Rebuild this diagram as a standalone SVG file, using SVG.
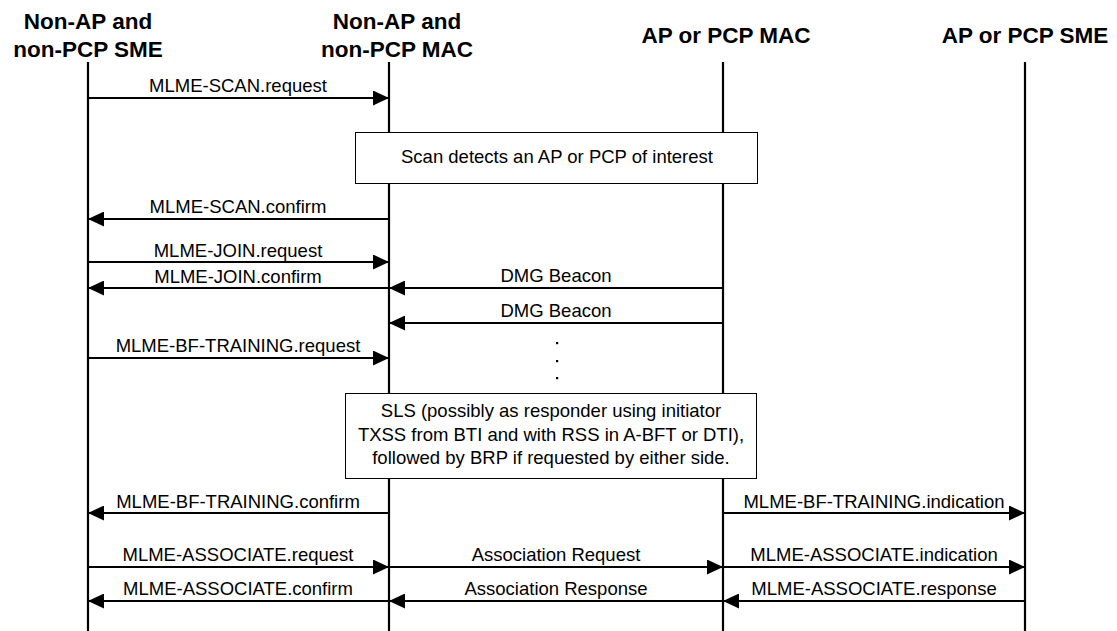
<svg xmlns="http://www.w3.org/2000/svg" width="1117" height="631" viewBox="0 0 1117 631">
<style>
.hdr{font-family:"Liberation Sans",Arial,sans-serif;font-weight:bold;font-size:22.5px;fill:#000;text-anchor:middle}
.lbl{font-family:"Liberation Sans",Arial,sans-serif;font-size:18.5px;fill:#000;text-anchor:middle}
.life{stroke:#000;stroke-width:2.2;fill:none}
.msg{stroke:#000;stroke-width:2.2;fill:none;marker-end:url(#ah)}
.box{fill:#fff;stroke:#000;stroke-width:1}
.dot{fill:#000}
</style>
<defs>
<marker id="ah" markerUnits="userSpaceOnUse" markerWidth="16" markerHeight="15" refX="16" refY="7.5" orient="auto">
<path d="M0,0 L16,7.5 L0,15 z" fill="#000"/>
</marker>
</defs>
<rect width="1117" height="631" fill="#fff"/>
<g id="sta-sme">
<text class="hdr" x="88" y="29">Non-AP and</text>
<text class="hdr" x="88" y="57">non-PCP SME</text>
<line class="life" x1="88" y1="62" x2="88" y2="631"/>
</g>
<g id="sta-mac">
<text class="hdr" x="397" y="29">Non-AP and</text>
<text class="hdr" x="397" y="57">non-PCP MAC</text>
<line class="life" x1="389" y1="62" x2="389" y2="631"/>
</g>
<g id="ap-mac">
<text class="hdr" x="726" y="43">AP or PCP MAC</text>
<line class="life" x1="723" y1="62" x2="723" y2="631"/>
</g>
<g id="ap-sme">
<text class="hdr" x="1025" y="43">AP or PCP SME</text>
<line class="life" x1="1025" y1="62" x2="1025" y2="631"/>
</g>
<g id="connectors">
<line class="msg" x1="88" y1="98" x2="389" y2="98"/>
<text class="lbl" x="238" y="92">MLME-SCAN.request</text>
<line class="msg" x1="389" y1="219" x2="88" y2="219"/>
<text class="lbl" x="238" y="213">MLME-SCAN.confirm</text>
<line class="msg" x1="88" y1="262" x2="389" y2="262"/>
<text class="lbl" x="238" y="257">MLME-JOIN.request</text>
<line class="msg" x1="389" y1="288" x2="88" y2="288"/>
<text class="lbl" x="238" y="283">MLME-JOIN.confirm</text>
<line class="msg" x1="723" y1="288" x2="389" y2="288"/>
<text class="lbl" x="556" y="282">DMG Beacon</text>
<line class="msg" x1="723" y1="323" x2="389" y2="323"/>
<text class="lbl" x="556" y="317">DMG Beacon</text>
<line class="msg" x1="88" y1="358" x2="389" y2="358"/>
<text class="lbl" x="238" y="352">MLME-BF-TRAINING.request</text>
<line class="msg" x1="389" y1="513" x2="88" y2="513"/>
<text class="lbl" x="238" y="508">MLME-BF-TRAINING.confirm</text>
<line class="msg" x1="723" y1="513" x2="1025" y2="513"/>
<text class="lbl" x="874" y="508">MLME-BF-TRAINING.indication</text>
<line class="msg" x1="88" y1="567" x2="389" y2="567"/>
<text class="lbl" x="238" y="561">MLME-ASSOCIATE.request</text>
<line class="msg" x1="389" y1="567" x2="723" y2="567"/>
<text class="lbl" x="556" y="561">Association Request</text>
<line class="msg" x1="723" y1="567" x2="1025" y2="567"/>
<text class="lbl" x="874" y="561">MLME-ASSOCIATE.indication</text>
<line class="msg" x1="389" y1="601" x2="88" y2="601"/>
<text class="lbl" x="238" y="595">MLME-ASSOCIATE.confirm</text>
<line class="msg" x1="723" y1="601" x2="389" y2="601"/>
<text class="lbl" x="556" y="595">Association Response</text>
<line class="msg" x1="1025" y1="601" x2="723" y2="601"/>
<text class="lbl" x="874" y="595">MLME-ASSOCIATE.response</text>
</g>
<g id="ellipsis">
<rect class="dot" x="556" y="342" width="2.2" height="2.2"/>
<rect class="dot" x="556" y="360" width="2.2" height="2.2"/>
<rect class="dot" x="556" y="377" width="2.2" height="2.2"/>
</g>
<g id="scan-box">
<rect class="box" x="355.5" y="132.5" width="402" height="51"/>
<text class="lbl" x="557" y="163">Scan detects an AP or PCP of interest</text>
</g>
<g id="sls-box">
<rect class="box" x="345.5" y="393.5" width="411" height="85"/>
<text class="lbl" x="551" y="417">SLS (possibly as responder using initiator</text>
<text class="lbl" x="551" y="441">TXSS from BTI and with RSS in A-BFT or DTI),</text>
<text class="lbl" x="551" y="464">followed by BRP if requested by either side.</text>
</g>
</svg>
